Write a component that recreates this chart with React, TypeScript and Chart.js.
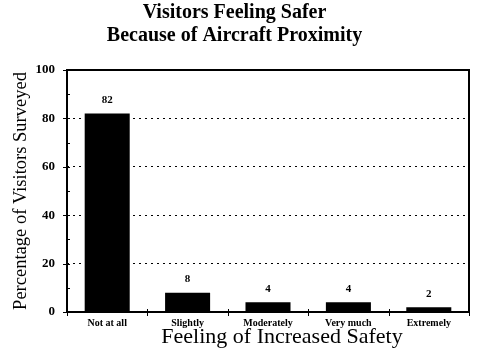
import React, { useEffect, useRef } from 'react';
import { Chart, registerables } from 'chart.js';

Chart.register(...registerables);

const categories = ['Not at all', 'Slightly', 'Moderately', 'Very much', 'Extremely'];
const percentages = [82, 8, 4, 4, 2];
const yMin = 0;
const yMax = 100;
const yMajorStep = 20;
const yMinorStep = 10;
const titleLines = ['Visitors Feeling Safer', 'Because of Aircraft Proximity'];
const xTitle = 'Feeling of Increased Safety';
const yTitle = 'Percentage of Visitors Surveyed';

const SERIF = '"Liberation Serif", "Times New Roman", Times, serif';

const decorPlugin = {
  id: 'decor',
  afterDatasetsDraw(chart: any) {
    const { ctx, chartArea: a, scales } = chart;
    const y = scales.y;
    const x = scales.x;
    ctx.save();
    ctx.strokeStyle = '#000';
    ctx.fillStyle = '#000';
    // frame
    ctx.lineWidth = 2;
    ctx.beginPath();
    ctx.moveTo(a.left, a.top);
    ctx.lineTo(a.right, a.top);
    ctx.lineTo(a.right, a.bottom);
    ctx.lineTo(a.left, a.bottom);
    ctx.closePath();
    ctx.stroke();
    // y tick marks
    ctx.lineWidth = 1;
    for (let v = yMin; v <= yMax; v += yMinorStep) {
      const py = Math.round(y.getPixelForValue(v)) + 0.5;
      const major = v % yMajorStep === 0;
      ctx.beginPath();
      ctx.moveTo(a.left - (major ? 4 : 0), py);
      ctx.lineTo(a.left + 3, py);
      ctx.stroke();
    }
    // x tick marks at category boundaries
    for (let i = 0; i <= categories.length; i++) {
      const px = Math.round(x.getPixelForValue(i - 0.5)) + 0.5;
      ctx.beginPath();
      ctx.moveTo(px, a.bottom - 3);
      ctx.lineTo(px, a.bottom + 4);
      ctx.stroke();
    }
    // value labels
    ctx.font = `bold 11px ${SERIF}`;
    ctx.textAlign = 'center';
    ctx.textBaseline = 'bottom';
    chart.getDatasetMeta(0).data.forEach((bar: any, i: number) => {
      ctx.fillText(String(percentages[i]), bar.x, bar.y - 8);
    });
    // x axis title
    ctx.font = `22px ${SERIF}`;
    ctx.textBaseline = 'middle';
    ctx.fillText(xTitle, (a.left + a.right) / 2 + 14, 337);
    ctx.restore();
  },
};

export default function App() {
  const ref = useRef<HTMLCanvasElement | null>(null);
  useEffect(() => {
    if (!ref.current) return;
    const chart = new Chart(ref.current, {
      type: 'bar',
      data: {
        labels: categories,
        datasets: [
          {
            data: percentages,
            backgroundColor: '#000',
            borderWidth: 0,
            barPercentage: 0.56,
            categoryPercentage: 1,
          },
        ],
      },
      options: {
        responsive: false,
        animation: false,
        layout: { padding: { left: 0, right: 11, top: 0, bottom: 0 } },
        plugins: {
          legend: { display: false },
          tooltip: { enabled: false },
          title: {
            display: true,
            text: titleLines,
            color: '#000',
            font: { family: SERIF, size: 20, weight: 'bold', lineHeight: 1.175 },
            padding: { top: 1, bottom: 22 },
          },
        },
        scales: {
          x: {
            offset: true,
            grid: { display: false, drawTicks: false },
            border: { display: false },
            ticks: {
              color: '#000',
              padding: 5,
              maxRotation: 0,
              autoSkip: false,
              font: { family: SERIF, size: 10, weight: 'bold' },
            },
            afterFit(scale: any) {
              scale.height = 51;
            },
          },
          y: {
            min: yMin,
            max: yMax,
            ticks: {
              stepSize: yMajorStep,
              color: '#000',
              padding: 12,
              font: { family: SERIF, size: 13, weight: 'bold' },
            },
            grid: {
              drawTicks: false,
              lineWidth: 1,
              color: (c: any) =>
                c.tick && (c.tick.value === yMin || c.tick.value === yMax) ? 'rgba(0,0,0,0)' : '#000',
            },
            border: { display: false, dash: [2, 4] },
            title: {
              display: true,
              text: yTitle,
              color: '#000',
              font: { family: SERIF, size: 18.5, lineHeight: 1.2 },
              padding: { top: 10, bottom: 0 },
            },
            afterFit(scale: any) {
              scale.width = 67;
            },
          },
        },
      },
      plugins: [decorPlugin],
    } as any);
    return () => chart.destroy();
  }, []);
  return (
    <div style={{ position: 'absolute', left: 0, top: 0, width: 480, height: 363, background: '#fff' }}>
      <canvas ref={ref} width={480} height={363} style={{ display: 'block' }} />
    </div>
  );
}
